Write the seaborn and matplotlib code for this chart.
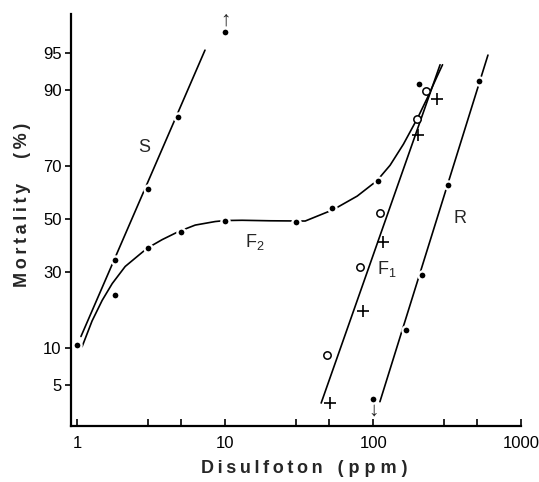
#!/usr/bin/env python3

from statistics import NormalDist

import numpy as np
import seaborn as sns
import matplotlib.pyplot as plt
from matplotlib.ticker import FixedLocator, FuncFormatter, NullFormatter

s_dose = [1.0, 1.8, 3.0, 4.8, 10.0]
s_mort = [10.5, 34.4, 61.7, 84.4, 96.8]
f2_dose = [1.8, 3.0, 5.0, 10.0, 30.0, 53.0, 107.0, 205.0]
f2_mort = [22.5, 38.6, 45.0, 49.3, 48.8, 54.5, 64.8, 90.9]
f1_open_dose = [49.0, 81.6, 112.0, 198.0, 228.0]
f1_open_mort = [8.9, 31.7, 52.5, 84.0, 89.8]
f1_plus_dose = [51.0, 85.0, 117.0, 201.0, 268.0]
f1_plus_mort = [3.4, 18.0, 41.0, 79.8, 88.3]
r_dose = [100.0, 167.0, 215.0, 321.0, 520.0]
r_mort = [3.7, 13.6, 29.0, 63.3, 91.4]

# hand drawn regression lines / curve
s_fit_dose = [1.06, 7.3]
s_fit_mort = [12.2, 95.3]
f1_fit_dose = [44.5, 283.0]
f1_fit_mort = [3.4, 93.7]
r_fit_dose = [111.0, 596.0]
r_fit_mort = [3.5, 94.8]
f2_fit_dose = [1.08, 1.26, 1.475, 1.724, 2.11, 2.66, 2.97, 3.75, 4.82, 6.27,
               8.56, 10.0, 13.0, 20.1, 34.7, 53.7, 78.0, 106.0, 130.0, 160.0,
               186.0, 201.0, 232.0, 271.0, 294.0]
f2_fit_mort = [10.3, 15.6, 21.0, 26.1, 31.9, 36.4, 38.6, 41.9, 45.0, 47.6,
               49.0, 49.4, 49.5, 49.3, 49.2, 53.7, 59.0, 64.8, 70.3, 77.1,
               82.1, 84.4, 88.5, 92.2, 93.7]

y_ticks = [5, 10, 30, 50, 70, 90, 95]
x_major = [1, 10, 100, 1000]
x_minor = [3, 5, 30, 50, 300, 500]

_nd = NormalDist()


def probit(p):
    q = np.clip(np.asarray(p, dtype=float) / 100.0, 1e-9, 1 - 1e-9)
    flat = q.ravel()
    out = np.array([_nd.inv_cdf(v) if np.isfinite(v) else np.nan for v in flat])
    return out.reshape(q.shape)


def inv_probit(z):
    z = np.asarray(z, dtype=float)
    flat = z.ravel()
    out = np.array([_nd.cdf(v) * 100 if np.isfinite(v) else np.nan for v in flat])
    return out.reshape(z.shape)


def spaced(word, sep="\u2009"):
    return sep.join(word)


sns.set_theme(style="ticks")
plt.rcParams['font.family'] = ['Liberation Sans', 'DejaVu Sans']
plt.rcParams['mathtext.default'] = 'regular'

fig = plt.figure(figsize=(5.39, 4.82), dpi=100)
ax = fig.add_axes([0.132, 0.116, 0.835, 0.855])
ax.set_xscale('log')
ax.set_yscale('function', functions=(probit, inv_probit))

line_kw = dict(color='black', lw=1.2, sort=False, estimator=None, zorder=2)
sns.lineplot(x=s_fit_dose, y=s_fit_mort, ax=ax, **line_kw)
sns.lineplot(x=f2_fit_dose, y=f2_fit_mort, ax=ax, **line_kw)
sns.lineplot(x=f1_fit_dose, y=f1_fit_mort, ax=ax, **line_kw)
sns.lineplot(x=r_fit_dose, y=r_fit_mort, ax=ax, **line_kw)

dot_kw = dict(marker='o', s=34, color='black', edgecolor='white', linewidth=1.7, zorder=4)
sns.scatterplot(x=s_dose, y=s_mort, ax=ax, **dot_kw)
sns.scatterplot(x=f2_dose, y=f2_mort, ax=ax, **dot_kw)
sns.scatterplot(x=r_dose, y=r_mort, ax=ax, **dot_kw)
sns.scatterplot(x=f1_open_dose, y=f1_open_mort, ax=ax, marker='o', s=28,
                color='white', edgecolor='black', linewidth=1.1, zorder=4)
sns.scatterplot(x=f1_plus_dose, y=f1_plus_mort, ax=ax, marker='+', s=80,
                color='black', linewidth=1.2, zorder=4)

# 100% and 0% points drawn at the edge with arrows
ax.annotate("\u2191", xy=(s_dose[-1], s_mort[-1]), xytext=(0, 9),
            textcoords='offset points', ha='center', va='center', fontsize=15,
            fontweight='bold')
ax.annotate("\u2193", xy=(r_dose[0], r_mort[0]), xytext=(0, -8),
            textcoords='offset points', ha='center', va='center', fontsize=15,
            fontweight='bold')

ax.text(2.84, 76, "S", fontsize=13, ha='center', va='center')
ax.text(13.6, 41, "F$_2$", fontsize=13, ha='left', va='center')
ax.text(106, 31, "F$_1$", fontsize=13, ha='left', va='center')
ax.text(347, 50.4, "R", fontsize=13, ha='left', va='center')

ax.set_xlim(0.91, 1000)
ax.set_ylim(2.0, 97.9)

ax.xaxis.set_major_locator(FixedLocator(x_major))
ax.xaxis.set_minor_locator(FixedLocator(x_minor))
ax.xaxis.set_major_formatter(FuncFormatter(lambda v, p: f"{v:g}"))
ax.xaxis.set_minor_formatter(NullFormatter())
ax.yaxis.set_major_locator(FixedLocator(y_ticks))
ax.yaxis.set_minor_locator(FixedLocator([]))
ax.yaxis.set_major_formatter(FuncFormatter(lambda v, p: f"{v:g}"))

ax.tick_params(axis='x', which='both', direction='in', length=5, width=1.2,
               labelsize=12, pad=7, colors='black')
ax.tick_params(axis='y', which='major', direction='out', length=4, width=1.2,
               labelsize=12, pad=3, colors='black')

sns.despine(ax=ax)
for side in ['left', 'bottom']:
    ax.spines[side].set_linewidth(1.6)
    ax.spines[side].set_color('black')

ax.set_xlabel(spaced("Disulfoton") + "   " + spaced("(ppm)", " "),
              fontsize=13, fontweight='bold')
ax.set_ylabel(spaced("Mortality") + "     " + spaced("(%)"),
              fontsize=13, fontweight='bold')
ax.xaxis.set_label_coords(0.517, -0.102)
ax.yaxis.set_label_coords(-0.109, 0.536)
ax.xaxis.label.set_va('center')
ax.yaxis.label.set_va('center')

plt.savefig("out.png", dpi=100)
